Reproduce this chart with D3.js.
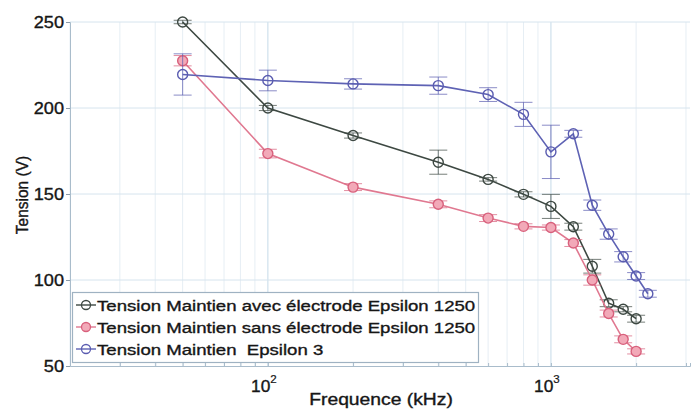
<!DOCTYPE html>
<html><head><meta charset="utf-8">
<script src="https://cdn.jsdelivr.net/npm/d3@7"></script>
<style>body{margin:0;background:#fff}svg{display:block}text{font-family:"Liberation Sans",Arial,sans-serif;white-space:pre}</style>
</head><body><svg id="c" width="696" height="416"></svg>
<script>
const freqBlack = [50,100,200,400,600,800,1000,1200,1400,1600,1800,2000];
const valBlack  = [250,200,184,168.5,158.5,149.8,142.8,131,108,86.5,83,77.5];
const errBlack  = [1,1.5,1.5,7,1,1.5,7,2,4,2,1.5,2];

const freqRed = [50,100,200,400,600,800,1000,1200,1400,1600,1800,2000];
const valRed  = [227.5,173.5,154,144,136,131.2,130.5,121.5,100,80.5,65.5,58.5];
const errRed  = [3,2.5,2,2,2,1.5,1.5,2,3,2,2,1.5];

const freqBlue = [50,100,200,400,600,800,1000,1200,1400,1600,1800,2000,2200];
const valBlue  = [219.5,216,214,213,207.8,196.3,174.5,185,143.5,126.7,113.5,102.3,92];
const errBlue  = [12,6,3,5,4,7,15.5,2,3,3,3,2,2];

const yTicks = [50,100,150,200,250];
const xMajor = [100,1000];
const legendLabels = ["Tension Maintien avec électrode Epsilon 1250",
                      "Tension Maintien sans électrode Epsilon 1250",
                      "Tension Maintien  Epsilon 3"];

const svg = d3.select("#c");
const L=70, R=690, T=22, B=366;
const x = d3.scaleLog().domain([20,3100]).range([L,R]);
const y = d3.scaleLinear().domain([50,250]).range([B,T]);

// stretched text helper
function stext(g, tx, ty, size, sx, anchor, str){
  return g.append("text").attr("transform",`translate(${tx},${ty}) scale(${sx},1)`)
    .attr("text-anchor",anchor).attr("font-size",size).attr("fill","#161616")
    .attr("stroke","#161616").attr("stroke-width",0.35).text(str);
}

// minor grid
const minor = [];
for (let d=10; d<=1000; d*=10) for (let k=2;k<=9;k++){ const v=d*k; if(v>=20&&v<=3100 && v!==100 && v!==1000) minor.push(v); }
svg.append("g").selectAll("line").data(minor).join("line")
  .attr("x1",d=>x(d)).attr("x2",d=>x(d)).attr("y1",T).attr("y2",B)
  .attr("stroke","#e6eef4").attr("stroke-width",1);
svg.append("g").selectAll("line").data(xMajor).join("line")
  .attr("x1",d=>x(d)).attr("x2",d=>x(d)).attr("y1",T).attr("y2",B)
  .attr("stroke","#cfe0ec").attr("stroke-width",1.2);
svg.append("g").selectAll("line").data(yTicks.slice(1)).join("line")
  .attr("x1",L).attr("x2",R).attr("y1",d=>y(d)).attr("y2",d=>y(d))
  .attr("stroke","#d6e4ee").attr("stroke-width",1);

// axes
const yAxis = d3.axisLeft(y).tickValues(yTicks).tickSize(4).tickFormat(()=> "");
const gy = svg.append("g").attr("transform",`translate(${L},0)`).call(yAxis);
gy.select(".domain").attr("stroke","#a9bccb");
gy.selectAll(".tick line").attr("stroke","#8a9aa8");
const gyl = svg.append("g");
yTicks.forEach(v=> stext(gyl, 64, y(v)+6, 16.5, 1.1, "end", String(v)));

const xAxis = d3.axisBottom(x).tickValues(minor.concat(xMajor)).tickSize(-3).tickFormat(()=> "");
const gx = svg.append("g").attr("transform",`translate(0,${B})`).call(xAxis);
gx.select(".domain").attr("stroke","#a9bccb");
gx.selectAll(".tick line").attr("stroke","#a9bccb");
const gxl = svg.append("g");
xMajor.forEach(v=>{
  const t = stext(gxl, x(v)-4, B+26, 16.5, 1.05, "middle", "");
  t.append("tspan").text("10");
  t.append("tspan").attr("dy",-9).attr("font-size",11).attr("stroke-width",0.2).text(Math.round(Math.log10(v)));
});

stext(svg, 381, 405, 16.5, 1.17, "middle", "Frequence (kHz)");
svg.append("text").attr("transform","translate(28,195) rotate(-90) scale(1,1.12)").attr("text-anchor","middle")
  .attr("font-size",15.5).attr("fill","#161616").attr("stroke","#161616").attr("stroke-width",0.35).text("Tension (V)");

const series = [
  {f:freqBlack,v:valBlack,e:errBlack,line:"#3d4842",fill:"none",mk:"#3d4842"},
  {f:freqRed,v:valRed,e:errRed,line:"#e07890",fill:"#f2a9b8",mk:"#d8607c"},
  {f:freqBlue,v:valBlue,e:errBlue,line:"#5e62b4",fill:"none",mk:"#5a5cb0"}
];
const line = d3.line().x(d=>x(d[0])).y(d=>y(d[1]));
series.forEach(s=>{
  const pts = s.f.map((f,i)=>[f,s.v[i],s.e[i]]);
  const g = svg.append("g");
  g.append("path").datum(pts).attr("d",line).attr("fill","none").attr("stroke",s.line).attr("stroke-width",1.6);
  const eb = g.selectAll("g.eb").data(pts).join("g");
  eb.append("line").attr("x1",d=>x(d[0])).attr("x2",d=>x(d[0]))
    .attr("y1",d=>y(d[1]-d[2])).attr("y2",d=>y(d[1]+d[2])).attr("stroke",s.mk).attr("stroke-width",1).attr("opacity",0.7);
  [-1,1].forEach(sg=>{
    eb.append("line").attr("x1",d=>x(d[0])-9).attr("x2",d=>x(d[0])+9)
      .attr("y1",d=>y(d[1]+sg*d[2])).attr("y2",d=>y(d[1]+sg*d[2])).attr("stroke",s.mk).attr("stroke-width",1).attr("opacity",0.7);
  });
  g.selectAll("circle").data(pts).join("circle").attr("cx",d=>x(d[0])).attr("cy",d=>y(d[1]))
    .attr("r",5).attr("fill",s.fill==="none"?"none":s.fill).attr("stroke",s.mk).attr("stroke-width",1.4);
});

// legend
const lg = svg.append("g");
lg.append("rect").attr("x",72.5).attr("y",292.5).attr("width",406).attr("height",70)
  .attr("fill","#fff").attr("stroke","#9fb2c2").attr("stroke-width",1.2);
legendLabels.forEach((lab,i)=>{
  const s=series[i], cy=305+i*22;
  lg.append("line").attr("x1",76).attr("x2",96).attr("y1",cy).attr("y2",cy).attr("stroke",s.line).attr("stroke-width",1.4);
  lg.append("circle").attr("cx",86).attr("cy",cy).attr("r",4.5).attr("fill",s.fill==="none"?"none":s.fill).attr("stroke",s.mk).attr("stroke-width",1.3);
  stext(lg, 97, cy+5.5, 15.5, 1.2, "start", lab);
});
</script></body></html>
